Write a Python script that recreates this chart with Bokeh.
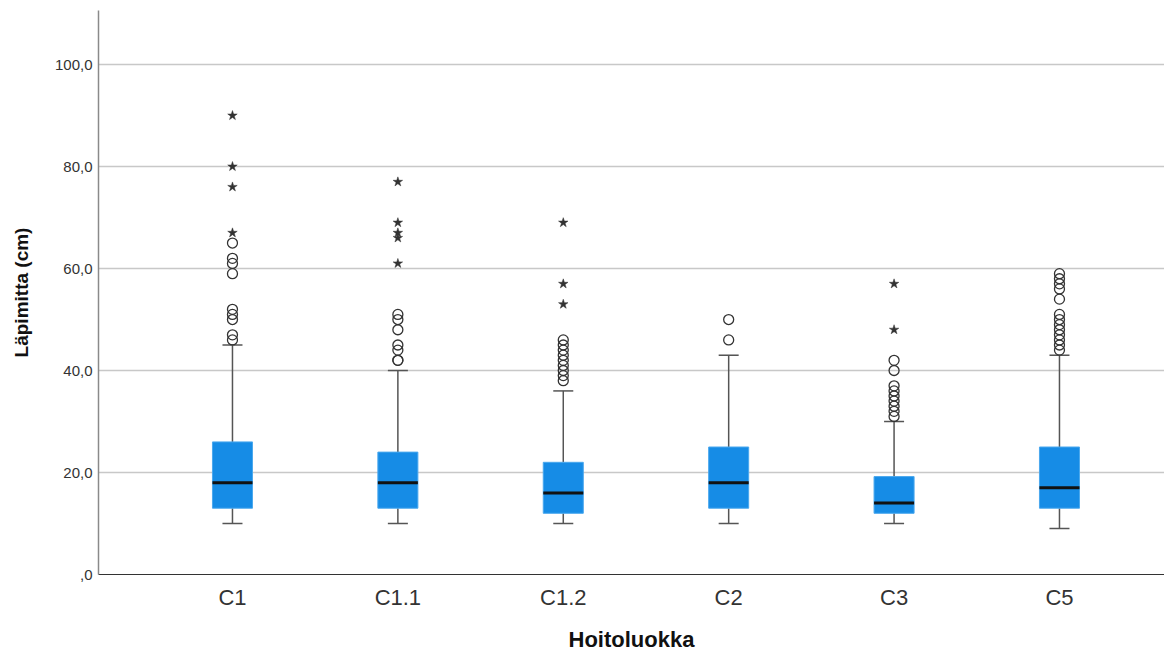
from bokeh.plotting import figure
from bokeh.models import FixedTicker, Range1d, ColumnDataSource
from bokeh.transform import dodge
from bokeh.embed import file_html
from bokeh.resources import INLINE

categories = ["C1", "C1.1", "C1.2", "C2", "C3", "C5"]
q1 = [13, 13, 12, 13, 12, 13]
median = [18, 18, 16, 18, 14, 17]
q3 = [26, 24, 22, 25, 19.2, 25]
whisk_lo = [10, 10, 10, 10, 10, 9]
whisk_hi = [45, 40, 36, 43, 30, 43]
outliers = [
    [65, 62, 61, 59, 52, 51, 50, 47, 46],
    [51, 50, 48, 45, 44, 42, 42],
    [46, 45, 44, 43, 42, 41, 40, 39, 38],
    [50, 46],
    [42, 40, 37, 36, 35, 34, 33, 32, 31],
    [59, 58, 57, 56, 54, 51, 50, 49, 48, 47, 46, 45, 44],
]
extremes = [
    [90, 80, 76, 67],
    [77, 69, 67, 66, 61],
    [69, 57, 53],
    [],
    [57, 48],
    [],
]
y_ticks = [0, 20, 40, 60, 80, 100]
y_tick_labels = [",0", "20,0", "40,0", "60,0", "80,0", "100,0"]

xs = list(range(len(categories)))
p = figure(width=1164, height=655, output_backend="svg", toolbar_location=None,
           x_range=Range1d(-0.81, 5.635), y_range=Range1d(0, 110.6),
           min_border_left=98, min_border_right=0, min_border_top=10, min_border_bottom=81)
p.outline_line_color = None
p.background_fill_color = "white"

p.xgrid.grid_line_color = None
p.ygrid.grid_line_color = "#c8c8c8"
p.ygrid.grid_line_width = 1.5

src = ColumnDataSource(dict(x=xs, q1=q1, med=median, q3=q3, lo=whisk_lo, hi=whisk_hi))
bw = 0.242
cw = 0.121
p.segment(x0="x", y0="q3", x1="x", y1="hi", source=src, line_color="#555555", line_width=1.5)
p.segment(x0="x", y0="lo", x1="x", y1="q1", source=src, line_color="#555555", line_width=1.5)
p.segment(x0=dodge("x", -cw / 2), y0="hi", x1=dodge("x", cw / 2), y1="hi", source=src,
          line_color="#555555", line_width=1.5)
p.segment(x0=dodge("x", -cw / 2), y0="lo", x1=dodge("x", cw / 2), y1="lo", source=src,
          line_color="#555555", line_width=1.5)
p.vbar(x="x", width=bw, bottom="q1", top="q3", source=src,
       fill_color="#168ce6", line_color="#4aa8ee", line_width=1)
p.segment(x0=dodge("x", -bw / 2), y0="med", x1=dodge("x", bw / 2), y1="med", source=src,
          line_color="#111111", line_width=3)

ox, oy, sx, sy = [], [], [], []
for i in xs:
    ox += [i] * len(outliers[i]); oy += outliers[i]
    sx += [i] * len(extremes[i]); sy += extremes[i]
p.scatter(ox, oy, marker="circle", size=10, fill_color=None, line_color="#333333", line_width=1.3)
p.scatter(sx, sy, marker="star", size=10, fill_color="#333333", line_color="#333333", line_width=0.5)

p.xaxis.ticker = FixedTicker(ticks=xs)
p.xaxis.major_label_overrides = {i: c for i, c in enumerate(categories)}
p.yaxis.ticker = FixedTicker(ticks=y_ticks)
p.yaxis.major_label_overrides = {t: l for t, l in zip(y_ticks, y_tick_labels)}
for ax in (p.xaxis, p.yaxis):
    ax.major_tick_in = 0
    ax.major_tick_out = 0
    ax.minor_tick_in = 0
    ax.minor_tick_out = 0
    ax.major_label_text_font = "Liberation Sans"
    ax.axis_label_text_font = "Liberation Sans"
    ax.axis_label_text_font_style = "bold"
    ax.axis_label_text_color = "#111111"
    ax.major_label_text_color = "#333333"
p.yaxis.axis_line_color = "#8a8a8a"
p.yaxis.axis_line_width = 1.5
p.xaxis.axis_line_color = "#333333"
p.xaxis.axis_line_width = 1.2
p.xaxis.major_label_text_font_size = "22px"
p.yaxis.major_label_text_font_size = "15px"
p.xaxis.axis_label = "Hoitoluokka"
p.yaxis.axis_label = "Läpimitta (cm)"
p.xaxis.axis_label_text_font_size = "22px"
p.yaxis.axis_label_text_font_size = "19px"
p.xaxis.major_label_standoff = 10
p.yaxis.major_label_standoff = 6
p.xaxis.axis_label_standoff = 14
p.yaxis.axis_label_standoff = 20

open("out.html", "w").write(file_html(p, INLINE))
